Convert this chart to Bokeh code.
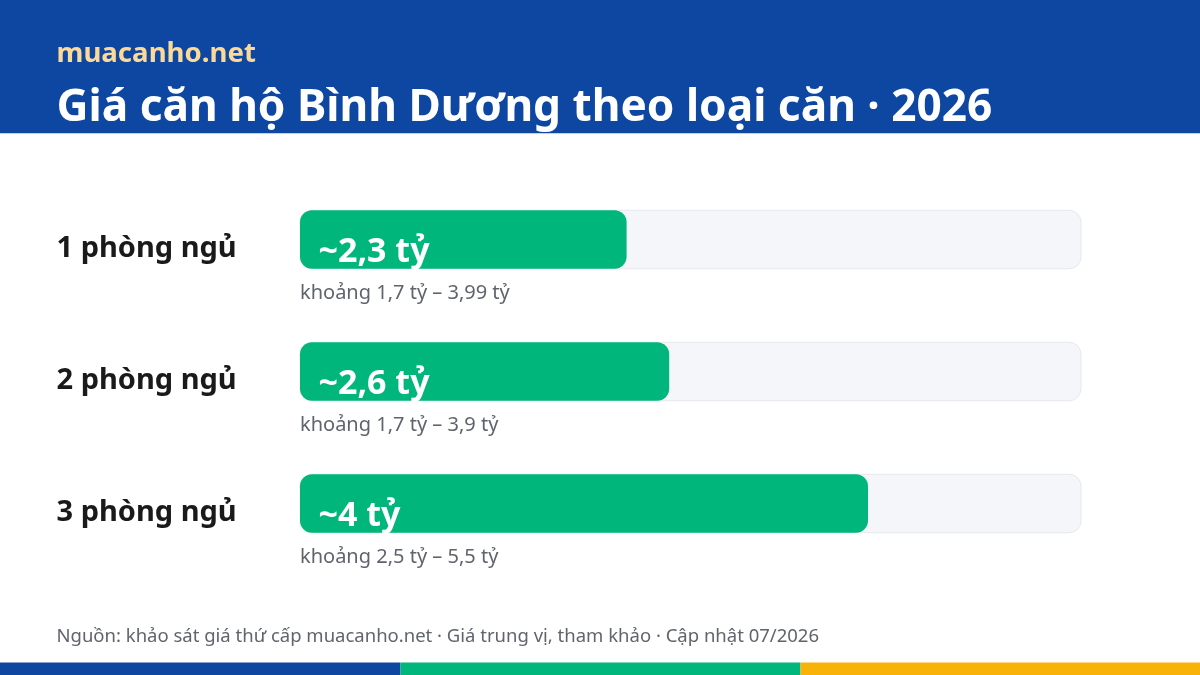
from bokeh.core.properties import value
from bokeh.embed import file_html
from bokeh.models import BoxAnnotation, ColumnDataSource, Label, Range1d
from bokeh.plotting import figure
from bokeh.resources import INLINE

categories = ["1 phòng ngủ", "2 phòng ngủ", "3 phòng ngủ"]
median_price = [2.3, 2.6, 4.0]
value_labels = ["~2,3 tỷ", "~2,6 tỷ", "~4 tỷ"]
range_labels = ["khoảng 1,7 tỷ – 3,99 tỷ", "khoảng 1,7 tỷ – 3,9 tỷ", "khoảng 2,5 tỷ – 5,5 tỷ"]
scale_max = 5.5

brand = "muacanho.net"
title = "Giá căn hộ Bình Dương theo loại căn · 2026"
footer = "Nguồn: khảo sát giá thứ cấp muacanho.net · Giá trung vị, tham khảo · Cập nhật 07/2026"

BLUE = "#0d47a1"
GREEN = "#00b67a"
GOLD = "#f9b208"
GREY = "#60646c"
FONT = "Noto Sans"

W, H = 1202, 677  # spare pixels, the figure sits a pixel off the page corner
TRACK_LEFT, TRACK_W = 300.5, 781
ROW_PITCH, ROW0 = 132, 240
BAR_H = 58.5

px_per_unit = TRACK_W / scale_max
x_range = Range1d(-TRACK_LEFT / px_per_unit, (W - TRACK_LEFT) / px_per_unit)
y_range = Range1d((H - ROW0) / ROW_PITCH, -ROW0 / ROW_PITCH)

p = figure(width=W, height=H, x_range=x_range, y_range=y_range,
           output_backend="svg", toolbar_location=None, min_border=0,
           outline_line_color=None, background_fill_color="white", border_fill_color="white")
p.axis.visible = False
p.grid.visible = False
# full bleed: the reference has no page margin
p.styles = {"position": "fixed", "left": "-1px", "top": "-1px"}

rows = list(range(len(categories)))
source = ColumnDataSource(dict(
    row=rows, zero=[0] * len(rows), full=[scale_max] * len(rows),
    price=median_price, category=categories, value_label=value_labels, range_label=range_labels,
))

bar_h = BAR_H / ROW_PITCH
p.hbar(y="row", left="zero", right="full", height=bar_h, source=source, fill_color="#f4f6fa",
       line_color="#e6e8ee", line_width=1, border_radius=12)
p.hbar(y="row", left="zero", right="price", height=bar_h, source=source, fill_color=GREEN,
       line_color=None, border_radius=12)

p.text(x="zero", y="row", text="value_label", source=source, x_offset=18.5, y_offset=9.5,
       text_color="white", text_font=value(FONT), text_font_size="34px", text_font_style="bold",
       text_baseline="alphabetic")
p.text(x="zero", y="row", text="range_label", source=source, y_offset=52,
       text_color=GREY, text_font=value(FONT), text_font_size="20px",
       text_baseline="alphabetic")
p.text(x="zero", y="row", text="category", source=source, x_offset=57 - TRACK_LEFT, y_offset=6,
       text_color="#1a1a1a", text_font=value(FONT), text_font_size="29px", text_font_style="bold",
       text_baseline="alphabetic")


def screen_box(left, right, top, bottom, color):
    # screen y counts from the bottom edge here
    return BoxAnnotation(left=left, right=right, top=H - top, bottom=H - bottom, fill_color=color, fill_alpha=1,
                         line_color=None, left_units="screen", right_units="screen",
                         top_units="screen", bottom_units="screen", level="underlay")


def screen_label(text, x, y, size, color, style="normal", level="underlay"):
    return Label(x=x, y=H - y, x_units="screen", y_units="screen", text=text, text_color=color,
                 text_font=FONT, text_font_size=size, text_font_style=style,
                 text_baseline="alphabetic", level=level)


p.add_layout(screen_box(0, W, 0, 134, BLUE))
p.add_layout(screen_label(brand, 57, 51, "27.6px", "#fcd997", "bold"))
p.add_layout(screen_label(title, 57, 104, "44.2px", "white", "bold"))
# the header clips the title's descenders
p.add_layout(screen_box(0, W, 134, 663, "white"))
p.add_layout(screen_box(0, 401, 663, H, BLUE))
p.add_layout(screen_box(401, 801, 663, H, GREEN))
p.add_layout(screen_box(801, W, 663, H, GOLD))
p.add_layout(screen_label(footer, 57, 635, "18.5px", GREY))

open("out.html", "w").write(file_html(p, INLINE))
